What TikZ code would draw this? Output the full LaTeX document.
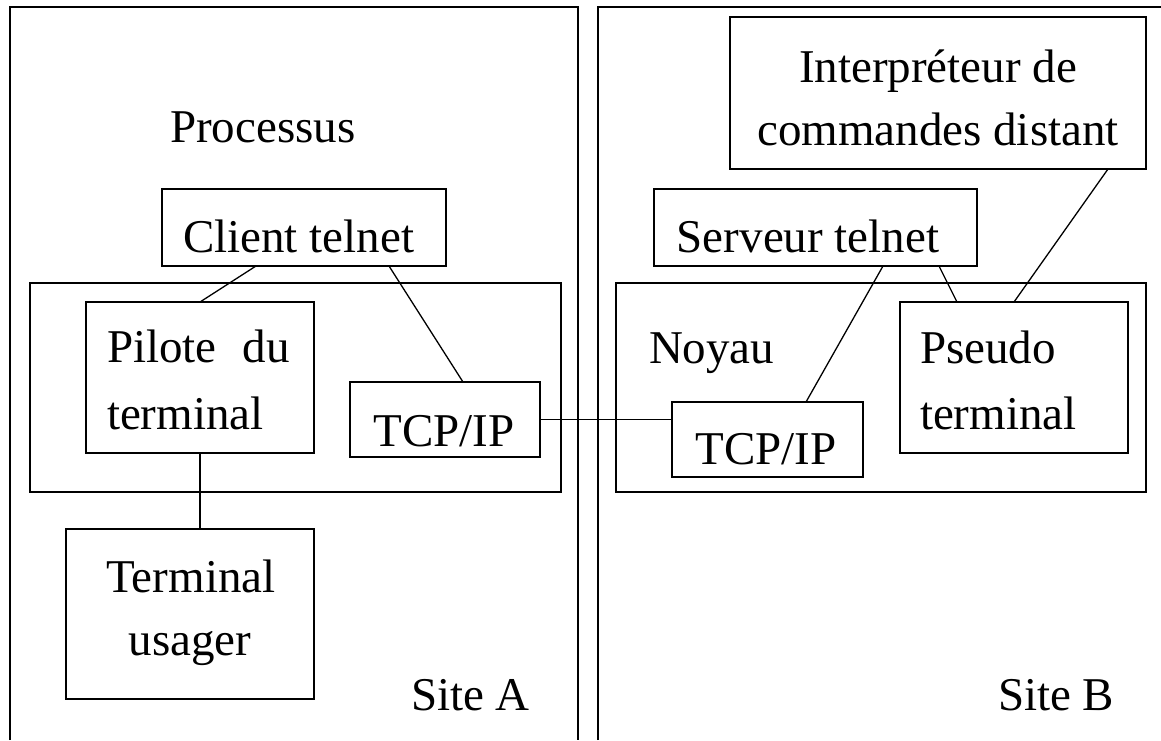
\documentclass[tikz,border=0pt]{standalone}
\usepackage{fontspec}
\setmainfont{Liberation Serif}
\usetikzlibrary{calc}
\begin{document}
\begin{tikzpicture}[x=1pt,y=-1pt,
  box/.style={draw,line width=1.4pt,inner sep=0,outer sep=0,rectangle},
  txt/.style={inner sep=0,outer sep=0,font=\fontsize{47}{56}\selectfont},
  link/.style={line width=1.3pt}]
\useasboundingbox (0,0) rectangle (1161,740);
% sites (open at the picture's edges)
\draw[line width=1.4pt] (10,740) -- (10,7) -- (578,7) -- (578,740);
\draw[line width=1.4pt] (598,740) -- (598,7) -- (1161,7);
\node[txt,anchor=base west] (siteA) at (411,710) {Site A};
\node[txt,anchor=base west] (siteB) at (998,710) {Site B};
% Site A
\node[txt,anchor=base west] (proc) at (170,142) {Processus};
\node[box,minimum width=284,minimum height=77] (ct) at (304,227.5) {};
\node[txt,anchor=base west] (ctt) at (183,252) {Client telnet};
\node[box,minimum width=531,minimum height=209] (kA) at (295.5,387.5) {};
\node[box,minimum width=228,minimum height=151] (pil) at (200,377.5) {};
\node[txt,anchor=base west] (pil1) at (107,362) {Pilote\hspace{26pt}du};
\node[txt,anchor=base west] (pil2) at (107,429) {terminal};
\node[box,minimum width=190,minimum height=75] (tcpA) at (445,419.5) {};
\node[txt,anchor=base] (tcpAt) at (444,446) {TCP/IP};
\node[box,minimum width=248,minimum height=170] (tu) at (190,614) {};
\node[txt,anchor=base] (tu1) at (191,592) {Terminal};
\node[txt,anchor=base] (tu2) at (190,655) {usager};
% Site B
\node[box,minimum width=416,minimum height=152] (interp) at (938,93) {};
\node[txt,anchor=base] (in1) at (938,82) {Interpréteur de};
\node[txt,anchor=base] (in2) at (938,145) {commandes distant};
\node[box,minimum width=323,minimum height=77] (st) at (815.5,227.5) {};
\node[txt,anchor=base] (stt) at (808,252) {Serveur telnet};
\node[box,minimum width=530,minimum height=209] (kB) at (881,387.5) {};
\node[txt,anchor=base west] (noy) at (649,363) {Noyau};
\node[box,minimum width=228,minimum height=151] (ps) at (1014,377.5) {};
\node[txt,anchor=base west] (ps1) at (920,363) {Pseudo};
\node[txt,anchor=base west] (ps2) at (920,429) {terminal};
\node[box,minimum width=191,minimum height=75] (tcpB) at (767.5,439.5) {};
\node[txt,anchor=base] (tcpBt) at (766,464) {TCP/IP};
% connectors
\draw[link] ([xshift=-48pt]ct.south) -- (pil.north);
\draw[link] ([xshift=85pt]ct.south) -- ([xshift=18pt]tcpA.north);
\draw[link] (pil.south) -- (pil.south |- tu.north);
\draw[link] (tcpA.east) -- (tcpA.east -| tcpB.west);
\draw[link] ([xshift=67.5pt]st.south) -- ([xshift=38.5pt]tcpB.north);
\draw[link] ([xshift=123.5pt]st.south) -- ([xshift=-57pt]ps.north);
\draw[link] ([xshift=170pt]interp.south) -- (ps.north);
\end{tikzpicture}
\end{document}
